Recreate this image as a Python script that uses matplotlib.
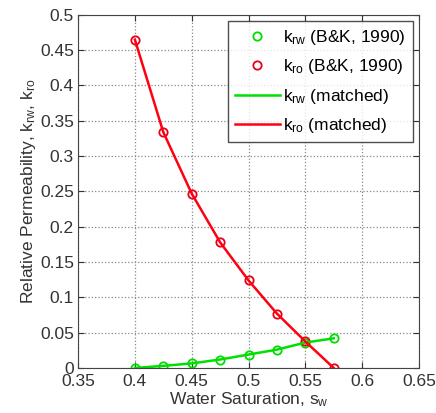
import matplotlib.pyplot as plt

plt.rcParams['font.family'] = ['Liberation Sans', 'DejaVu Sans']
plt.rcParams['mathtext.default'] = 'regular'

# water saturation and relative permeabilities (Brooks & Corey data)
sw = [0.4, 0.425, 0.45, 0.475, 0.5, 0.525, 0.55, 0.575]
krw = [0.0, 0.003, 0.0065, 0.012, 0.019, 0.026, 0.036, 0.042]
kro = [0.465, 0.334, 0.247, 0.178, 0.124, 0.077, 0.0375, 0.0]

xticks = [0.35, 0.4, 0.45, 0.5, 0.55, 0.6, 0.65]
yticks = [0, 0.05, 0.1, 0.15, 0.2, 0.25, 0.3, 0.35, 0.4, 0.45, 0.5]

fs = 12.5

fig = plt.figure(figsize=(4.36, 4.13), dpi=100)
ax = fig.add_axes([0.179, 0.109, 0.782, 0.855])

ax.plot(sw, krw, 'o', mfc='none', mec='#00dd00', ms=6, mew=1.3,
        label=r'$k_{rw}$ (B&K, 1990)')
ax.plot(sw, kro, 'o', mfc='none', mec='#e8001a', ms=6, mew=1.3,
        label=r'$k_{ro}$ (B&K, 1990)')
ax.plot(sw, krw, '-', color='#00e000', lw=1.8, label=r'$k_{rw}$ (matched)')
ax.plot(sw, kro, '-', color='#ff0010', lw=1.8, label=r'$k_{ro}$ (matched)')

ax.set_xlim(0.35, 0.65)
ax.set_ylim(0, 0.5)
ax.set_xticks(xticks)
ax.set_yticks(yticks)
ax.set_xticklabels(['0.35', '0.4', '0.45', '0.5', '0.55', '0.6', '0.65'])
ax.set_yticklabels(['0', '0.05', '0.1', '0.15', '0.2', '0.25', '0.3',
                    '0.35', '0.4', '0.45', '0.5'])
ax.tick_params(direction='in', length=4, labelsize=fs, colors='#333333',
               top=True, right=True, pad=3)
ax.tick_params(axis='x', pad=4)
for s in ax.spines.values():
    s.set_color('#444444')
ax.grid(True, linestyle=':', color='#888888', lw=0.9)

ax.set_xlabel(r'Water Saturation, $s_w$', fontsize=fs, color='#333333', labelpad=1)
ax.set_ylabel(r'Relative Permeability, $k_{rw}$, $k_{ro}$', fontsize=fs,
              color='#333333', labelpad=1)

leg = ax.legend(loc='upper right', fontsize=fs, frameon=True, fancybox=False,
                edgecolor='#222222', borderaxespad=0.35, handlelength=2.6,
                handletextpad=0.2, labelspacing=0.6, borderpad=0.4)
leg.get_frame().set_linewidth(1.0)

fig.savefig('out.png', dpi=100)
